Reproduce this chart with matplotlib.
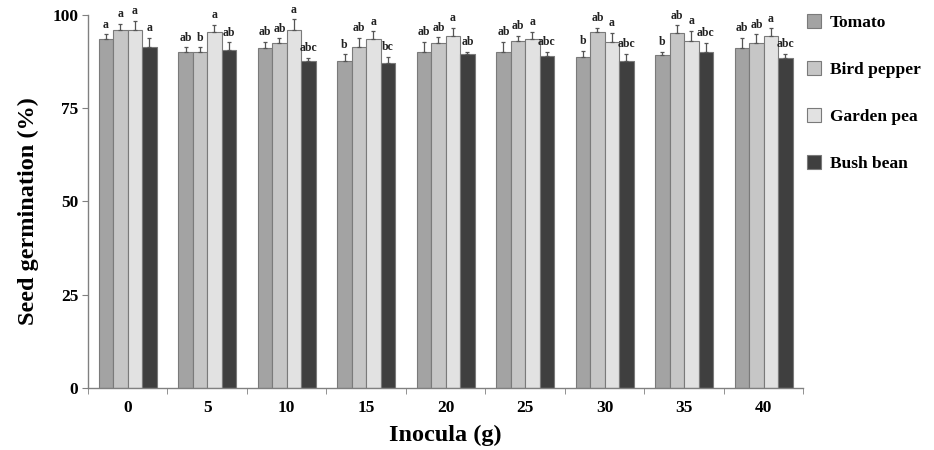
import matplotlib
matplotlib.use("Agg")
import matplotlib.pyplot as plt
import numpy as np
from matplotlib.patches import Patch

plt.rcParams['font.family'] = ['Liberation Serif', 'DejaVu Serif']
plt.rcParams['font.weight'] = 'bold'

inocula = ['0', '5', '10', '15', '20', '25', '30', '35', '40']
series = ['Tomato', 'Bird pepper', 'Garden pea', 'Bush bean']

tomato = [93.6, 90.1, 91.2, 87.5, 90.1, 90.1, 88.8, 89.3, 91.2]
tomato_err = [1.3, 1.3, 1.6, 1.9, 2.7, 2.7, 1.6, 0.8, 2.7]
bird_pepper = [96.0, 90.1, 92.5, 91.5, 92.5, 93.1, 95.5, 95.2, 92.5]
bird_pepper_err = [1.6, 1.3, 1.3, 2.4, 1.6, 1.3, 1.1, 2.1, 2.4]
garden_pea = [96.0, 95.5, 96.0, 93.6, 94.2, 93.6, 92.8, 93.1, 94.4]
garden_pea_err = [2.4, 1.9, 2.9, 2.1, 2.4, 1.9, 2.4, 2.7, 2.1]
bush_bean = [91.5, 90.7, 87.7, 87.2, 89.6, 89.0, 87.7, 90.1, 88.3]
bush_bean_err = [2.4, 1.9, 0.8, 1.6, 0.5, 1.1, 1.9, 2.4, 1.3]

letters_tomato = ['a', 'ab', 'ab', 'b', 'ab', 'ab', 'b', 'b', 'ab']
letters_bird = ['a', 'b', 'ab', 'ab', 'ab', 'ab', 'ab', 'ab', 'ab']
letters_garden = ['a', 'a', 'a', 'a', 'a', 'a', 'a', 'a', 'a']
letters_bush = ['a', 'ab', 'abc', 'bc', 'ab', 'abc', 'abc', 'abc', 'abc']

values = [tomato, bird_pepper, garden_pea, bush_bean]
errors = [tomato_err, bird_pepper_err, garden_pea_err, bush_bean_err]
letters = [letters_tomato, letters_bird, letters_garden, letters_bush]
colors = ['#a3a3a3', '#c6c6c6', '#e2e2e2', '#3f3f3f']

fig = plt.figure(figsize=(9.34, 4.5), dpi=100)
ax = fig.add_axes([0.0942, 0.138, 0.766, 0.829])

x = np.arange(len(inocula))
w = 0.182
for i, (vals, errs, labs, c) in enumerate(zip(values, errors, letters, colors)):
    pos = x + (i - 1.5) * w
    ax.bar(pos, vals, width=w, color=c, edgecolor='#7a7a7a', linewidth=0.8, zorder=2)
    ax.errorbar(pos, vals, yerr=[np.zeros(len(errs)), errs], fmt='none',
                ecolor='#555555', elinewidth=0.9, capsize=1.5, capthick=0.9, zorder=3)
    for p, v, e, t in zip(pos, vals, errs, labs):
        ax.text(p, v + e + 0.9, t, ha='center', va='bottom', fontsize=8.5,
                fontweight='bold', color='#222222')

ax.set_xlim(-0.5, 8.5)
ax.set_ylim(0, 100)
ax.set_yticks([0, 25, 50, 75, 100])
ax.set_xticks(x)
ax.set_xticklabels(inocula)
ax.set_xticks(np.arange(-0.5, 8.6, 1.0), minor=True)
ax.tick_params(axis='x', which='major', length=0, pad=9, labelsize=12.5)
ax.tick_params(axis='x', which='minor', length=4, direction='out', color='#808080')
ax.tick_params(axis='y', length=4, direction='out', color='#808080', labelsize=12.5, pad=3)
for lab in ax.get_xticklabels() + ax.get_yticklabels():
    lab.set_fontweight('bold')

for s in ['top', 'right']:
    ax.spines[s].set_visible(False)
for s in ['left', 'bottom']:
    ax.spines[s].set_color('#808080')
    ax.spines[s].set_linewidth(1.0)

ax.set_ylabel('Seed germination (%)', fontsize=17.5, fontweight='bold')
ax.yaxis.set_label_coords(-0.068, 0.475)
ax.set_xlabel('Inocula (g)', fontsize=17.5, fontweight='bold', labelpad=6)

handles = [Patch(facecolor=c, edgecolor='#7a7a7a', linewidth=0.8) for c in colors]
leg = fig.legend(handles, series, loc='upper left', bbox_to_anchor=(0.847, 1.003),
                 frameon=False, labelspacing=1.75, handlelength=0.8,
                 handleheight=0.8, handletextpad=0.55, prop={'weight': 'bold', 'size': 12.5})

fig.savefig('out.png', dpi=100)
